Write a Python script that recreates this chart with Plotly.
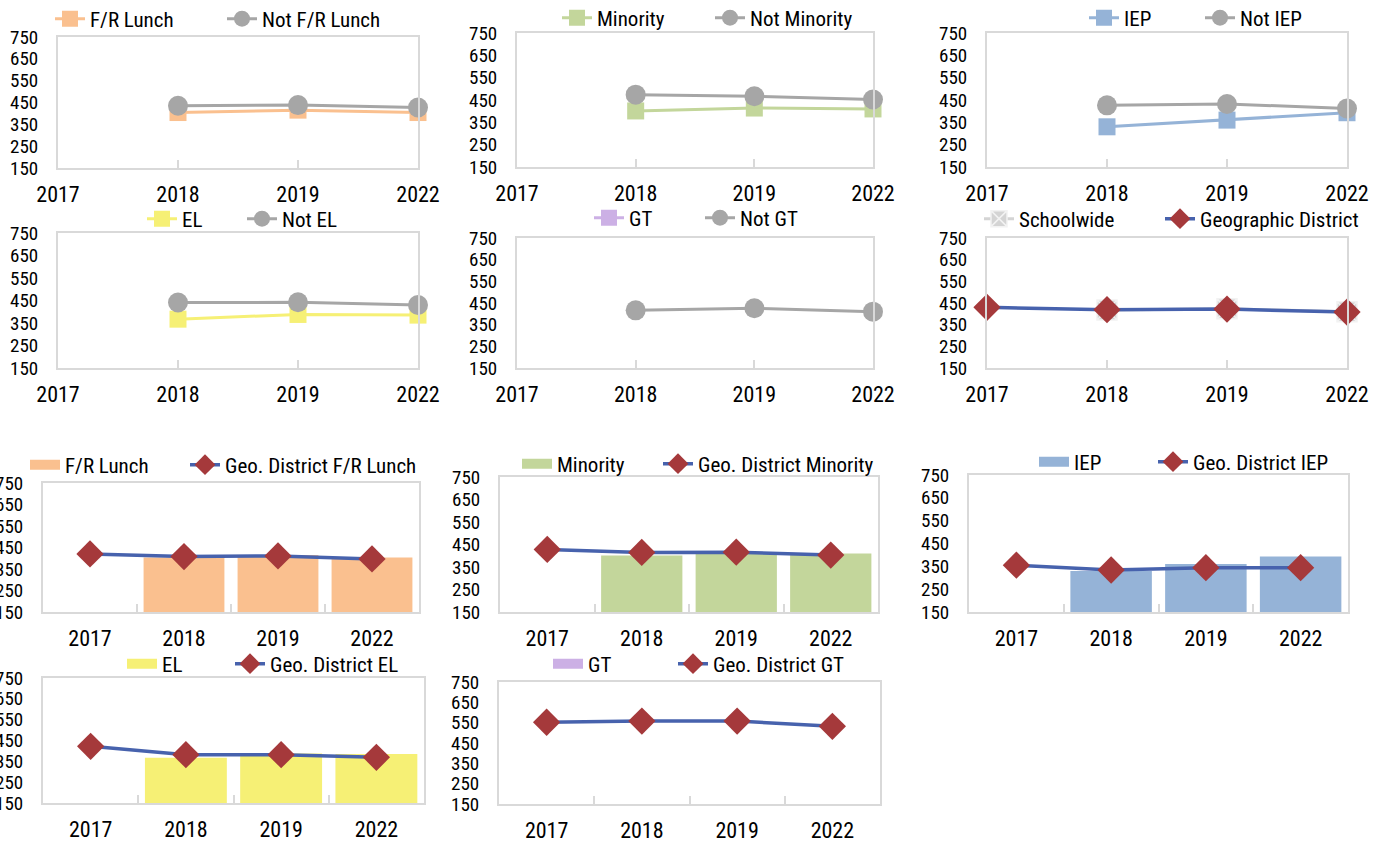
import plotly.graph_objects as go

# ---------------- data ----------------
years = ["2017", "2018", "2019", "2022"]

fr_lunch = [None, 404, 415, 404]
not_fr_lunch = [None, 435, 438, 427]
minority = [None, 401, 414, 410]
not_minority = [None, 474, 467, 452]
iep = [None, 330, 360, 393]
not_iep = [None, 426, 432, 412]
el = [None, 367, 388, 385]
not_el = [None, 441, 442, 430]
gt = [None, None, None, None]
not_gt = [None, 416, 426, 410]
schoolwide = [None, 418, 423, 410]
geo_district = [430, 419, 422, 408]

geo_fr = [420, 408, 411, 397]
geo_minority = [428, 415, 416, 403]
geo_iep = [355, 334, 344, 344]
geo_el = [422, 382, 382, 369]
geo_gt = [552, 558, 558, 532]

y_ticks = [150, 250, 350, 450, 550, 650, 750]

# ---------------- style ----------------
W, H = 1382, 846
FONT = "Liberation Sans Narrow, Arial Narrow, Roboto Condensed, sans-serif"
C_FR = "#FAC08F"
C_MIN = "#C3D69B"
C_IEP = "#95B3D7"
C_EL = "#F6F075"
C_GT = "#CCB0E5"
C_GRAY = "#A6A6A6"
C_GEO = "#4762AD"
C_GEOM = "#A5393B"
C_SCH = "#D4D4D4"
C_BOX = "#D9D9D9"

fig = go.Figure()
legends = {}
leg_count = [0]


def new_legend(text_x, y):
    leg_count[0] += 1
    name = "legend" if leg_count[0] == 1 else f"legend{leg_count[0]}"
    legends[name] = dict(
        x=(text_x - 40) / W, y=1 - y / H, xanchor="left", yanchor="middle",
        orientation="h", bgcolor="rgba(0,0,0,0)", borderwidth=0,
        font=dict(size=21, color="#000000", family=FONT),
    )
    return name


def axes(n, box, kind):
    x0, y0, x1, y1 = box
    sfx = "" if n == 1 else str(n)
    xa = dict(
        domain=[x0 / W, x1 / W], anchor=f"y{sfx}", type="category",
        categoryorder="array", categoryarray=years,
        range=[0, 3] if kind == "line" else [-0.5, 3.5],
        showline=True, mirror=True, linecolor=C_BOX, linewidth=2,
        ticks="inside", ticklen=8, tickwidth=1.5, tickcolor=C_BOX,
        tickson="labels" if kind == "line" else "boundaries",
        showgrid=False, zeroline=False, fixedrange=True,
        tickfont=dict(size=22, color="#000000", family=FONT),
        ticklabelstandoff=6,
    )
    ya = dict(
        domain=[1 - y1 / H, 1 - y0 / H], anchor=f"x{sfx}",
        range=[150, 750], tickvals=y_ticks, ticks="",
        showline=True, mirror=True, linecolor=C_BOX, linewidth=2,
        showgrid=False, zeroline=False, fixedrange=True,
        tickfont=dict(size=19, color="#000000", family=FONT),
        ticklabelstandoff=14,
    )
    fig.layout[f"xaxis{sfx}"] = xa
    fig.layout[f"yaxis{sfx}"] = ya
    return f"x{sfx}", f"y{sfx}"


def line_trace(xa, ya, vals, name, color, symbol, size, legend, width=3,
               mline=None):
    fig.add_trace(go.Scatter(
        x=years, y=vals, name=name, mode="lines+markers", xaxis=xa, yaxis=ya,
        line=dict(color=color, width=width),
        marker=dict(symbol=symbol, size=size, color=color,
                    line=mline or dict(width=0)),
        cliponaxis=False, legend=legend, connectgaps=False,
    ))


def geo_trace(xa, ya, vals, name, legend):
    fig.add_trace(go.Scatter(
        x=years, y=vals, name=name, mode="lines+markers", xaxis=xa, yaxis=ya,
        line=dict(color=C_GEO, width=3.5),
        marker=dict(symbol="diamond", size=21, color=C_GEOM, line=dict(width=0)),
        cliponaxis=False, legend=legend,
    ))


def bar_trace(xa, ya, vals, name, color, legend):
    fig.add_trace(go.Bar(
        x=years, y=vals, name=name, xaxis=xa, yaxis=ya,
        marker=dict(color=color, line=dict(width=0)), width=0.86,
        showlegend=False,
    ))
    # legend entry drawn as a wide swatch
    fig.add_trace(go.Scatter(
        x=[None], y=[None], name=name, mode="lines", xaxis=xa, yaxis=ya,
        line=dict(color=color, width=12), legend=legend,
    ))


# ---------------- top line panels ----------------
pairs = [
    ((58, 37, 418, 168), fr_lunch, "F/R Lunch", C_FR, not_fr_lunch, "Not F/R Lunch", (90, 19), (262, 19)),
    ((517, 33, 873, 167), minority, "Minority", C_MIN, not_minority, "Not Minority", (597, 18), (750, 18)),
    ((987, 33, 1347, 167), iep, "IEP", C_IEP, not_iep, "Not IEP", (1124, 18), (1240, 18)),
    ((58, 233, 418, 368), el, "EL", C_EL, not_el, "Not EL", (182, 219), (282, 219)),
    ((517, 238, 873, 368), gt, "GT", C_GT, not_gt, "Not GT", (629, 218), (740, 218)),
]
n = 0
for box, gv, gname, gcol, ov, oname, l1, l2 in pairs:
    n += 1
    xa, ya = axes(n, box, "line")
    line_trace(xa, ya, gv, gname, gcol, "square", 17, new_legend(*l1))
    line_trace(xa, ya, ov, oname, C_GRAY, "circle", 20, new_legend(*l2))

# schoolwide vs geographic district
n += 1
xa, ya = axes(n, (987, 238, 1347, 368), "line")
line_trace(xa, ya, schoolwide, "Schoolwide", C_SCH, "square-x", 20,
           new_legend(1019, 219), mline=dict(width=1.5, color="#F2F2F2"))
geo_trace(xa, ya, geo_district, "Geographic District", new_legend(1200, 219))

# ---------------- bottom bar + line panels ----------------
bars = [
    ((43, 483, 419, 612), fr_lunch, "F/R Lunch", C_FR, geo_fr, "Geo. District F/R Lunch", (65, 465), (225, 465)),
    ((500, 477, 878, 612), minority, "Minority", C_MIN, geo_minority, "Geo. District Minority", (557, 464), (698, 464)),
    ((969, 475, 1348, 612), iep, "IEP", C_IEP, geo_iep, "Geo. District IEP", (1074, 462), (1193, 462)),
    ((43, 678, 424, 803), el, "EL", C_EL, geo_el, "Geo. District EL", (162, 664), (270, 664)),
    ((499, 682, 880, 804), gt, "GT", C_GT, geo_gt, "Geo. District GT", (588, 664), (713, 664)),
]
for box, bv, bname, bcol, gv, gname, l1, l2 in bars:
    n += 1
    xa, ya = axes(n, box, "bar")
    bar_trace(xa, ya, bv, bname, bcol, new_legend(*l1))
    geo_trace(xa, ya, gv, gname, new_legend(*l2))

fig.update_layout(
    width=W, height=H, autosize=False,
    margin=dict(l=0, r=0, t=0, b=0, pad=0, autoexpand=False),
    paper_bgcolor="#FFFFFF", plot_bgcolor="#FFFFFF",
    font=dict(family=FONT, size=19, color="#000000"),
    bargap=0.14,
    **legends,
)

fig.write_html(
    "out.html",
    post_script="document.body.style.margin='0';document.body.style.overflow='hidden';",
    config={"displayModeBar": False},
)
